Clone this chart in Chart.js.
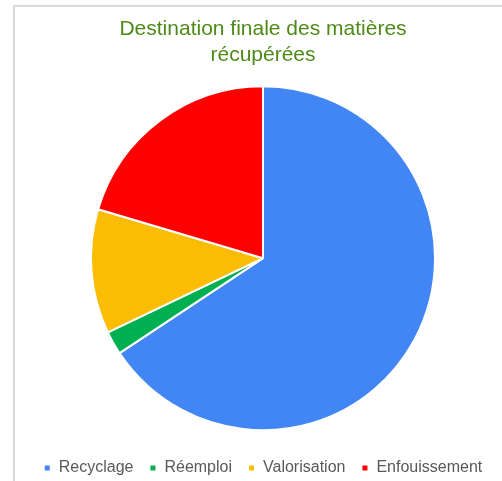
<!DOCTYPE html>
<html>
<head>
<meta charset="utf-8">
<script src="https://cdn.jsdelivr.net/npm/chart.js@4/dist/chart.umd.min.js"></script>
<style>
  html, body { margin: 0; padding: 0; background: #fff; }
  #wrap { position: relative; width: 502px; height: 481px; overflow: hidden; }
  #frame { position: absolute; left: 13px; top: 5px; width: 600px; height: 600px;
           border-left: 2px solid #d9d9d9; border-top: 2px solid #d9d9d9; }
  #chart { position: absolute; left: 0; top: 0; }
</style>
</head>
<body>
<div id="wrap">
  <div id="frame"></div>
  <canvas id="chart" width="502" height="490"></canvas>
</div>
<script>
// Destination finale des matières récupérées (parts en %)
const categories = ['Recyclage', 'Réemploi', 'Valorisation', 'Enfouissement'];
const shares = [65.7, 2.2, 11.7, 20.4];
const sliceColors = ['#4285F4', '#00B050', '#FBBC04', '#FF0000'];

const ctx = document.getElementById('chart').getContext('2d');
new Chart(ctx, {
    type: 'pie',
    data: {
        labels: categories,
        datasets: [{
            data: shares,
            backgroundColor: sliceColors,
            borderColor: '#ffffff',
            borderWidth: 2,
            radius: 172
        }]
    },
    options: {
        responsive: false,
        animation: false,
        layout: {
            padding: { left: 24, right: 0, top: 5, bottom: 4 }
        },
        plugins: {
            title: {
                display: true,
                text: ['Destination finale des matières', 'récupérées'],
                color: '#4e8a18',
                font: { family: '"Liberation Sans", Arial, sans-serif', size: 21, weight: 'normal', lineHeight: 1.2 },
                padding: { top: 12, bottom: 5 }
            },
            legend: {
                position: 'bottom',
                labels: {
                    color: '#595959',
                    font: { family: '"Liberation Sans", Arial, sans-serif', size: 16 },
                    boxWidth: 7,
                    boxHeight: 7,
                    padding: 16
                }
            },
            tooltip: { enabled: false }
        }
    }
});
</script>
</body>
</html>
